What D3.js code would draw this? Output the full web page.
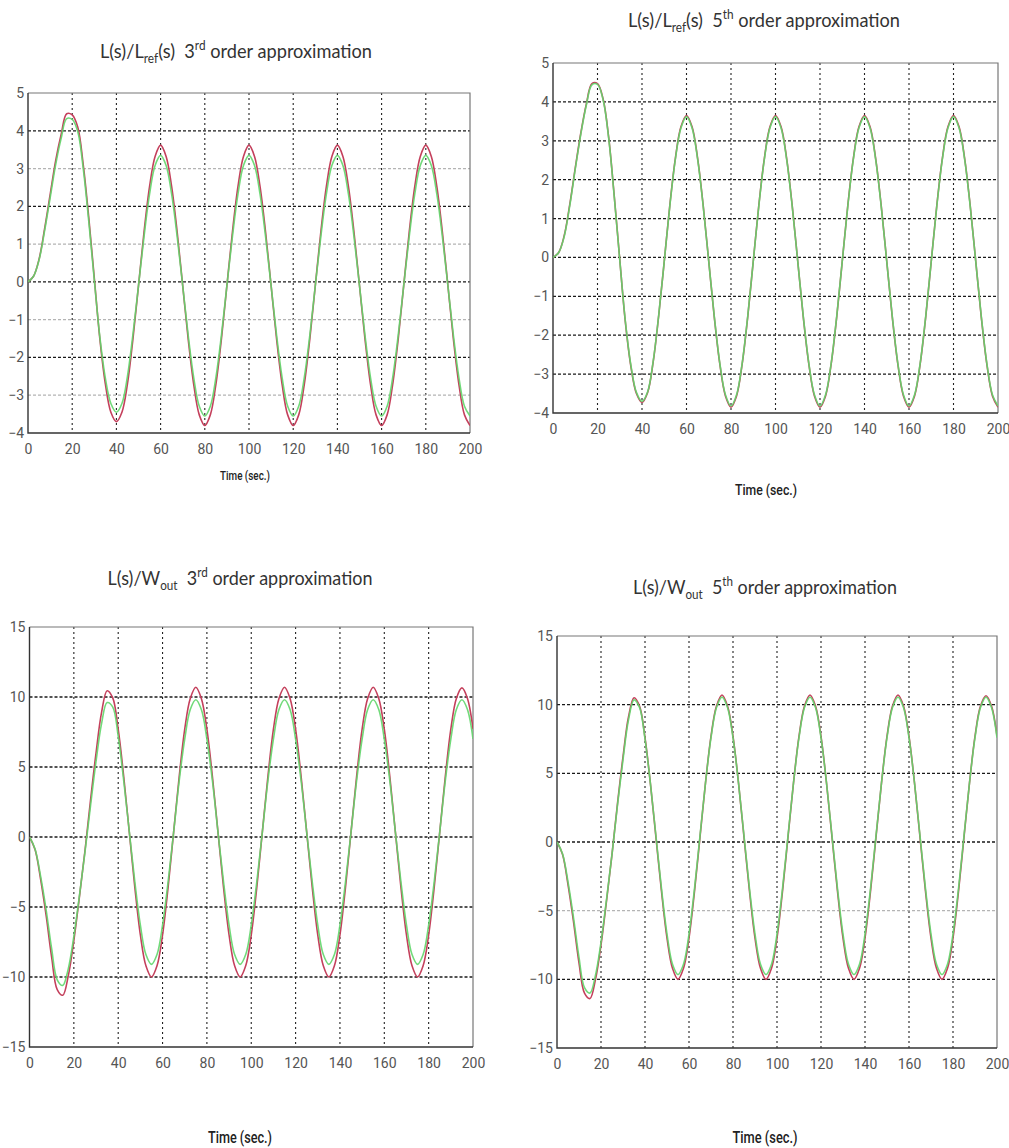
<!DOCTYPE html>
<html lang="en">
  <head>
    <meta charset="UTF-8" />
    <script src="https://cdn.jsdelivr.net/npm/d3@7/dist/d3.min.js"></script>
    <style type="text/css">
      body {
        margin: 0;
        background-color: #fff;
      }
      svg {
        display: block;
      }
      .tick text {
        font-family: Roboto, "Liberation Sans", sans-serif;
        font-size: 14px;
        fill: #555;
      }
      .title {
        font-family: Lato, "Open Sans", sans-serif;
        font-size: 20px;
        fill: #333;
        white-space: pre;
      }
      .xlabel {
        font-family: Roboto, "Liberation Sans", sans-serif;
        font-weight: 500;
        fill: #222;
        white-space: pre;
      }
    </style>
    <title>L(s) approximations</title>
  </head>
  <body>
    <div class="canvas"></div>
    <script>
      // sample times (sec.)
      const time = [0,2.5,5,7.5,10,12.5,15,17.5,20,22.5,25,27.5,30,32.5,35,37.5,40,42.5,45,47.5,50,52.5,55,57.5,60,62.5,65,67.5,70,72.5,75,77.5,80,82.5,85,87.5,90,92.5,95,97.5,100,102.5,105,107.5,110,112.5,115,117.5,120,122.5,125,127.5,130,132.5,135,137.5,140,142.5,145,147.5,150,152.5,155,157.5,160,162.5,165,167.5,170,172.5,175,177.5,180,182.5,185,187.5,190,192.5,195,197.5,200];

      // L(s)/Lref(s) 3rd order
      const p1Red = [0,0.15,0.6,1.4,2.3,3.2,3.9,4.45,4.42,4.1,3.1,1.7,0.1,-1.5,-2.7,-3.45,-3.7,
        -3.45,-2.7,-1.5,-0.1,1.32,2.52,3.32,3.62,
        3.32,2.52,1.32,-0.1,-1.52,-2.72,-3.52,-3.8,
        -3.52,-2.72,-1.52,-0.1,1.32,2.52,3.32,3.62,
        3.32,2.52,1.32,-0.1,-1.52,-2.72,-3.52,-3.8,
        -3.52,-2.72,-1.52,-0.1,1.32,2.52,3.32,3.62,
        3.32,2.52,1.32,-0.1,-1.52,-2.72,-3.52,-3.8,
        -3.52,-2.72,-1.52,-0.1,1.32,2.52,3.32,3.62,
        3.32,2.52,1.32,-0.1,-1.52,-2.72,-3.52,-3.8];
      const p1Green = [0,0.15,0.58,1.35,2.22,3.1,3.8,4.32,4.3,3.98,3.0,1.6,0.05,-1.45,-2.55,-3.22,-3.45,
        -3.22,-2.5,-1.38,-0.1,1.2,2.32,3.08,3.35,
        3.08,2.32,1.2,-0.1,-1.42,-2.54,-3.29,-3.55,
        -3.29,-2.54,-1.42,-0.1,1.2,2.32,3.08,3.35,
        3.08,2.32,1.2,-0.1,-1.42,-2.54,-3.29,-3.55,
        -3.29,-2.54,-1.42,-0.1,1.2,2.32,3.08,3.35,
        3.08,2.32,1.2,-0.1,-1.42,-2.54,-3.29,-3.55,
        -3.29,-2.54,-1.42,-0.1,1.2,2.32,3.08,3.35,
        3.08,2.32,1.2,-0.1,-1.42,-2.54,-3.29,-3.55];

      // L(s)/Lref(s) 5th order
      const p2Red = [0,0.12,0.55,1.35,2.3,3.2,3.95,4.47,4.47,4.08,3.1,1.6,-0.05,-1.65,-2.8,-3.5,-3.73,
        -3.48,-2.7,-1.5,-0.1,1.34,2.55,3.36,3.65,
        3.36,2.55,1.34,-0.1,-1.54,-2.75,-3.56,-3.85,
        -3.56,-2.75,-1.54,-0.1,1.34,2.55,3.36,3.65,
        3.36,2.55,1.34,-0.1,-1.54,-2.75,-3.56,-3.85,
        -3.56,-2.75,-1.54,-0.1,1.34,2.55,3.36,3.65,
        3.36,2.55,1.34,-0.1,-1.54,-2.75,-3.56,-3.85,
        -3.56,-2.75,-1.54,-0.1,1.34,2.55,3.36,3.65,
        3.36,2.55,1.34,-0.1,-1.54,-2.75,-3.56,-3.85];
      const p2Green = [0,0.12,0.53,1.32,2.27,3.17,3.92,4.44,4.45,4.06,3.08,1.58,-0.06,-1.63,-2.77,-3.47,-3.7,
        -3.46,-2.68,-1.49,-0.1,1.32,2.53,3.33,3.62,
        3.33,2.53,1.32,-0.1,-1.52,-2.73,-3.53,-3.82,
        -3.53,-2.73,-1.52,-0.1,1.32,2.53,3.33,3.62,
        3.33,2.53,1.32,-0.1,-1.52,-2.73,-3.53,-3.82,
        -3.53,-2.73,-1.52,-0.1,1.32,2.53,3.33,3.62,
        3.33,2.53,1.32,-0.1,-1.52,-2.73,-3.53,-3.82,
        -3.53,-2.73,-1.52,-0.1,1.32,2.53,3.33,3.62,
        3.33,2.53,1.32,-0.1,-1.52,-2.73,-3.53,-3.82];

      // L(s)/Wout 3rd order
      const p3Red = [0,-0.9,-3.0,-5.6,-8.6,-10.9,-11.3,-9.9,-7.4,-4.3,-1.0,2.6,6.0,8.9,10.45,9.95,7.7,4.3,0.35,-3.6,-7.0,-9.2,-10.0,
        -9.2,-7.0,-3.6,0.35,4.3,7.7,9.9,10.7,
        9.9,7.7,4.3,0.35,-3.6,-7.0,-9.2,-10.0,
        -9.2,-7.0,-3.6,0.35,4.3,7.7,9.9,10.7,
        9.9,7.7,4.3,0.35,-3.6,-7.0,-9.2,-10.0,
        -9.2,-7.0,-3.6,0.35,4.3,7.7,9.9,10.7,
        9.9,7.7,4.3,0.35,-3.6,-7.0,-9.2,-10.0,
        -9.2,-7.0,-3.6,0.35,4.3,7.7,9.9,10.65,
        9.9,7.7];
      const p3Green = [0,-0.85,-2.8,-5.2,-8.0,-10.2,-10.6,-9.4,-7.1,-4.2,-1.1,2.2,5.4,8.1,9.6,9.3,7.2,4.0,0.4,-3.2,-6.3,-8.4,-9.1,
        -8.4,-6.3,-3.2,0.35,4.0,7.0,9.1,9.8,
        9.1,7.0,4.0,0.35,-3.2,-6.3,-8.4,-9.1,
        -8.4,-6.3,-3.2,0.35,4.0,7.0,9.1,9.8,
        9.1,7.0,4.0,0.35,-3.2,-6.3,-8.4,-9.1,
        -8.4,-6.3,-3.2,0.35,4.0,7.0,9.1,9.8,
        9.1,7.0,4.0,0.35,-3.2,-6.3,-8.4,-9.1,
        -8.4,-6.3,-3.2,0.35,4.0,7.0,9.1,9.8,
        9.1,7.0];

      // L(s)/Wout 5th order
      const p4Red = [0,-0.9,-3.1,-5.8,-8.8,-11.0,-11.4,-10.0,-7.5,-4.3,-0.9,2.8,6.2,9.1,10.5,9.9,7.6,4.2,0.3,-3.6,-7.0,-9.2,-10.0,
        -9.2,-7.0,-3.6,0.35,4.3,7.7,9.9,10.7,
        9.9,7.7,4.3,0.35,-3.6,-7.0,-9.2,-10.0,
        -9.2,-7.0,-3.6,0.35,4.3,7.7,9.9,10.7,
        9.9,7.7,4.3,0.35,-3.6,-7.0,-9.2,-10.0,
        -9.2,-7.0,-3.6,0.35,4.3,7.7,9.9,10.7,
        9.9,7.7,4.3,0.35,-3.6,-7.0,-9.2,-10.0,
        -9.2,-7.0,-3.6,0.35,4.3,7.7,9.9,10.65,
        9.9,7.7];
      const p4Green = [0,-0.85,-2.9,-5.5,-8.4,-10.6,-11.0,-9.7,-7.3,-4.2,-0.9,2.7,6.0,8.9,10.35,9.8,7.5,4.2,0.4,-3.4,-6.7,-8.9,-9.65,
        -8.9,-6.7,-3.4,0.45,4.3,7.6,9.8,10.55,
        9.8,7.6,4.3,0.45,-3.4,-6.7,-8.9,-9.65,
        -8.9,-6.7,-3.4,0.45,4.3,7.6,9.8,10.55,
        9.8,7.6,4.3,0.45,-3.4,-6.7,-8.9,-9.65,
        -8.9,-6.7,-3.4,0.45,4.3,7.6,9.8,10.55,
        9.8,7.6,4.3,0.45,-3.4,-6.7,-8.9,-9.65,
        -8.9,-6.7,-3.4,0.45,4.3,7.6,9.8,10.55,
        9.8,7.6];

      const xTicks = [0,20,40,60,80,100,120,140,160,180,200];
      const yTicksL = [-4,-3,-2,-1,0,1,2,3,4,5];
      const yTicksW = [-15,-10,-5,0,5,10,15];

      const title1 = [["L(s)/L",""],["ref","sub"],["(s)  3",""],["rd","sup"],[" order approximation",""]];
      const title2 = [["L(s)/L",""],["ref","sub"],["(s)  5",""],["th","sup"],[" order approximation",""]];
      const title3 = [["L(s)/W",""],["out","sub"],["  3",""],["rd","sup"],[" order approximation",""]];
      const title4 = [["L(s)/W",""],["out","sub"],["  5",""],["th","sup"],[" order approximation",""]];

      const panels = [
        { box: [28, 93, 470, 433], yDomain: [-4, 5], yTicks: yTicksL,
          grid: [4,3,2,1,0,-1,-2,-3], light: [3,1,-1,-3],
          red: p1Red, green: p1Green,
          title: title1, tx: 236, ty: 58, tlen: 272,
          lx: 245, ly: 480, lsize: 13, llen: 50 },
        { box: [553, 63, 998, 413], yDomain: [-4, 5], yTicks: yTicksL,
          grid: [4,3,2,1,0,-1,-2,-3], light: [],
          red: p2Red, green: p2Green,
          title: title2, tx: 764, ty: 27, tlen: 272,
          lx: 766, ly: 495, lsize: 14, llen: 62 },
        { box: [29.5, 627, 473, 1047], yDomain: [-15, 15], yTicks: yTicksW,
          grid: [10,5,0,-5,-10], light: [],
          red: p3Red, green: p3Green,
          title: title3, tx: 240, ty: 585, tlen: 265,
          lx: 240, ly: 1143, lsize: 16, llen: 64 },
        { box: [557, 636, 997, 1048], yDomain: [-15, 15], yTicks: yTicksW,
          grid: [10,5,0,-5,-10], light: [-5],
          red: p4Red, green: p4Green,
          title: title4, tx: 765, ty: 594, tlen: 264,
          lx: 765, ly: 1143, lsize: 16, llen: 65 },
      ];

      const svg = d3
        .select(".canvas")
        .append("svg")
        .attr("width", 1009)
        .attr("height", 1148);

      panels.forEach((p, i) => {
        const [x0, y0, x1, y1] = p.box;
        const x = d3.scaleLinear().domain([0, 200]).range([x0, x1]);
        const y = d3.scaleLinear().domain(p.yDomain).range([y1, y0]);
        const g = svg.append("g");

        g.append("defs")
          .append("clipPath")
          .attr("id", "clip" + i)
          .append("rect")
          .attr("x", x0)
          .attr("y", y0)
          .attr("width", x1 - x0)
          .attr("height", y1 - y0);

        // vertical grid
        g.append("g")
          .selectAll("line")
          .data(xTicks.slice(1, -1))
          .join("line")
          .attr("x1", (d) => x(d))
          .attr("x2", (d) => x(d))
          .attr("y1", y0)
          .attr("y2", y1)
          .attr("stroke", "#222")
          .attr("stroke-width", 1.1)
          .attr("stroke-dasharray", "2,3");

        // horizontal grid
        g.append("g")
          .selectAll("line")
          .data(p.grid)
          .join("line")
          .attr("x1", x0)
          .attr("x2", x1)
          .attr("y1", (d) => y(d))
          .attr("y2", (d) => y(d))
          .attr("stroke", (d) => (p.light.includes(d) ? "#b4b4b4" : "#1a1a1a"))
          .attr("stroke-width", 1.3)
          .attr("stroke-dasharray", "3,2");

        // box
        g.append("path")
          .attr("d", `M${x0},${y0}H${x1}V${y1}`)
          .attr("fill", "none")
          .attr("stroke", "#777")
          .attr("stroke-width", 1.2);
        g.append("path")
          .attr("d", `M${x0},${y0}V${y1}H${x1}`)
          .attr("fill", "none")
          .attr("stroke", "#333")
          .attr("stroke-width", 1.4);

        const line = (vals) =>
          d3
            .line()
            .curve(d3.curveCatmullRom)
            .x((d, j) => x(time[j]))
            .y((d) => y(d))(vals);

        g.append("path")
          .attr("d", line(p.red))
          .attr("fill", "none")
          .attr("stroke", "#c4405c")
          .attr("stroke-width", 1.6)
          .attr("clip-path", `url(#clip${i})`);
        g.append("path")
          .attr("d", line(p.green))
          .attr("fill", "none")
          .attr("stroke", "#62d66c")
          .attr("stroke-width", 1.6)
          .attr("stroke-opacity", 0.9)
          .attr("clip-path", `url(#clip${i})`);

        // axes
        g.append("g")
          .attr("transform", `translate(0,${y1})`)
          .call(d3.axisBottom(x).tickValues(xTicks).tickSize(0).tickPadding(11))
          .call((a) => a.select(".domain").remove());
        g.append("g")
          .attr("transform", `translate(${x0},0)`)
          .call(d3.axisLeft(y).tickValues(p.yTicks).tickSize(0).tickPadding(4))
          .call((a) => a.select(".domain").remove());

        // title with sub/superscripts
        const t = g
          .append("text")
          .attr("class", "title")
          .attr("x", p.tx)
          .attr("y", p.ty)
          .attr("text-anchor", "middle")
          .attr("textLength", p.tlen)
          .attr("lengthAdjust", "spacingAndGlyphs");
        let shift = 0;
        p.title.forEach(([s, kind]) => {
          const target = kind === "sub" ? 5 : kind === "sup" ? -8 : 0;
          const span = t.append("tspan").text(s).attr("dy", target - shift);
          if (kind !== "") span.attr("font-size", 13);
          shift = target;
        });

        g.append("text")
          .attr("class", "xlabel")
          .attr("x", p.lx)
          .attr("y", p.ly)
          .attr("text-anchor", "middle")
          .attr("font-size", p.lsize)
          .attr("textLength", p.llen)
          .attr("lengthAdjust", "spacingAndGlyphs")
          .text("Time (sec.)");
      });
    </script>
  </body>
</html>
